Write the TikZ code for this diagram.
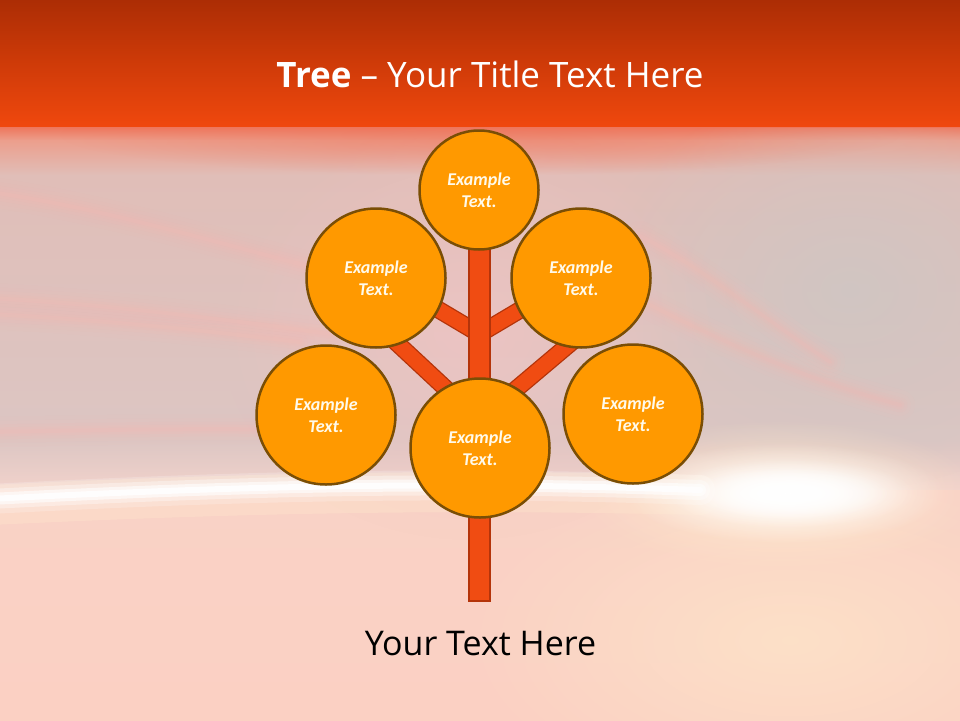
\documentclass[tikz,border=0pt]{standalone}
\usepackage{fontspec}
\setmainfont{Open Sans}
\newfontfamily\carl{Carlito}
\usetikzlibrary{fadings}
\tikzfading[name=softblob, inner color=transparent!0, outer color=transparent!100]
\definecolor{barA}{RGB}{172,45,5}
\definecolor{barB}{RGB}{205,58,8}
\definecolor{barC}{RGB}{240,72,14}
\definecolor{bgA}{RGB}{238,118,92}
\definecolor{bgB}{RGB}{236,158,140}
\definecolor{bgC}{RGB}{224,190,184}
\definecolor{bgD}{RGB}{220,198,195}
\definecolor{bgE}{RGB}{242,210,203}
\definecolor{bgF}{RGB}{249,210,198}
\definecolor{bgG}{RGB}{251,208,195}
\definecolor{greyR}{RGB}{207,198,195}
\definecolor{pinkC}{RGB}{242,196,196}
\definecolor{warmR}{RGB}{253,226,200}
\definecolor{halo}{RGB}{255,232,205}
\definecolor{streak}{RGB}{255,182,176}
\definecolor{leaffill}{RGB}{255,153,0}
\definecolor{leafline}{RGB}{122,78,5}
\definecolor{leaftext}{RGB}{255,250,235}
\definecolor{brfill}{RGB}{240,76,18}
\definecolor{brline}{RGB}{180,52,10}
\tikzset{
  leaf/.style={circle, draw=leafline, line width=2.5pt, fill=leaffill, text=leaftext,
    font=\carl\bfseries\itshape\fontsize{18}{22}\selectfont, align=center, inner sep=0pt},
  branch/.style={draw=brline, line width=1.3pt, double=brfill, double distance=15pt},
  trunkbox/.style={rectangle, draw=brline, line width=1.3pt, fill=brfill, inner sep=0pt,
    minimum width=21pt, minimum height=356pt},
  softline/.style={line cap=round, opacity=#1},
}
\begin{document}
\begin{tikzpicture}[x=1pt,y=-1pt]
\useasboundingbox (0,0) rectangle (960,720);
% ---- background strips
\shade[top color=barA, bottom color=barB] (0,0) rectangle (960,60.5);
\shade[top color=barB, bottom color=barC] (0,60) rectangle (960,127.5);
\shade[top color=bgA, bottom color=bgB] (0,127) rectangle (960,140.5);
\shade[top color=bgB, bottom color=bgC] (0,140) rectangle (960,175.5);
\shade[top color=bgC, bottom color=bgD] (0,175) rectangle (960,440.5);
\shade[top color=bgD, bottom color=bgE] (0,440) rectangle (960,490.5);
\shade[top color=bgF, bottom color=bgG] (0,490) rectangle (960,720);
% ---- soft overlays
\begin{scope}
\clip (0,128) rectangle (960,720);
\fill[greyR, path fading=softblob, opacity=.9] (850,290) ellipse (260 and 200);
\fill[pinkC, path fading=softblob, opacity=.7] (470,330) ellipse (250 and 210);
\fill[warmR, path fading=softblob, opacity=.9] (790,640) ellipse (330 and 170);
\fill[bgA, path fading=softblob, opacity=.5] (480,135) ellipse (420 and 40);
% pink streaks
\foreach \w/\o in {30/.05, 22/.06, 15/.08, 9/.1, 4/.12}{
  \draw[streak, softline=\o, line width=\w pt] (-10,192) .. controls (100,208) and (200,238) .. (330,272);
  \draw[streak, softline=\o, line width=\w pt] (-10,298) .. controls (100,304) and (200,316) .. (330,334);
  \draw[streak, softline=\o, line width=\w pt] (-10,314) .. controls (100,320) and (200,330) .. (300,342);
  \draw[streak, softline=\o, line width=\w pt] (640,236) .. controls (700,266) and (760,316) .. (830,362);
  \draw[streak, softline=\o, line width=\w pt] (650,305) .. controls (720,340) and (800,378) .. (900,405);
  \draw[streak, softline=\o, line width=\w pt] (-10,432) .. controls (100,430) and (200,428) .. (300,430);
}
% bright streak and glow
\fill[halo, path fading=softblob] (780,495) ellipse (200 and 75);
\draw[halo, softline=.35, line width=40pt] (-10,505) .. controls (200,495) and (420,488) .. (700,495);
\foreach \w/\o in {30/.2, 20/.35, 12/.6, 6/.85}{
  \draw[white, softline=\o, line width=\w pt] (-10,499) .. controls (200,488) and (420,480) .. (700,490);
}
\fill[white, path fading=softblob] (785,493) ellipse (160 and 50);
\fill[white, path fading=softblob] (790,493) ellipse (125 and 34);
\fill[white, path fading=softblob] (790,493) ellipse (100 and 26);
\end{scope}
% ---- tree
\coordinate (j1) at (479.5,334);
\coordinate (j2) at (479.5,420);
\coordinate (e1) at (402,288);
\coordinate (e2) at (557,288);
\coordinate (e3) at (384,331);
\coordinate (e4) at (579,336);
\draw[branch] (j1) -- (e1);
\draw[branch] (j1) -- (e2);
\draw[branch] (j2) -- (e3);
\draw[branch] (j2) -- (e4);
\node[trunkbox] (trunk) at (479.5,423) {};
\node[leaf, minimum size=119pt] (c1) at (479,190) {Example\\Text.};
\node[leaf, minimum size=139pt] (c2) at (376,278) {Example\\Text.};
\node[leaf, minimum size=139pt] (c3) at (581,278) {Example\\Text.};
\node[leaf, minimum size=139pt] (c4) at (326,415) {Example\\Text.};
\node[leaf, minimum size=139pt] (c5) at (480,448) {Example\\Text.};
\node[leaf, minimum size=139pt] (c6) at (633,414) {Example\\Text.};
% ---- texts
\node[anchor=base, text=white, font=\fontsize{35}{40}\selectfont, inner sep=0pt] (title) at (490,87) {\textbf{Tree} – Your Title Text Here};
\node[anchor=base, text=black, font=\fontsize{34}{40}\selectfont, inner sep=0pt] (sub) at (480.5,655) {Your Text Here};
\end{tikzpicture}
\end{document}
